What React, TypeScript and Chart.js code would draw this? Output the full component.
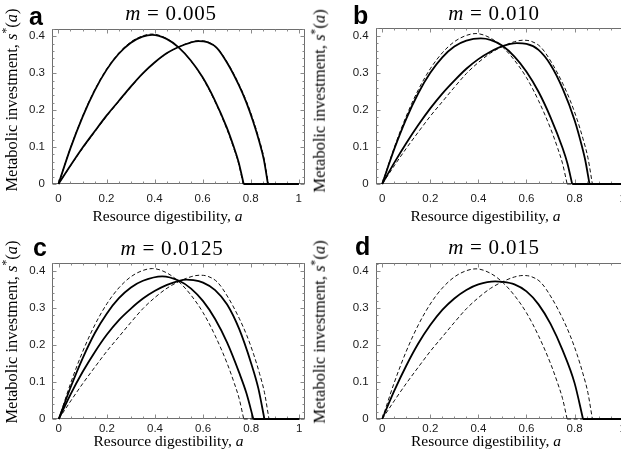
import React, { useEffect, useRef } from "react";
import { Chart, registerables } from "chart.js";

Chart.register(...registerables);

type Pt = [number, number];

// ---------------- data ----------------
const X_TICKS = [0, 0.2, 0.4, 0.6, 0.8, 1];
const Y_TICKS = [0, 0.1, 0.2, 0.3, 0.4];
const PANEL_LETTERS = ["a", "b", "c", "d"];
const PANEL_M = ["0.005", "0.010", "0.0125", "0.015"];

// reference curves (dashed, same in every panel)
const dashedLeft: Pt[] = [
  [0, 0], [0.05, 0.098], [0.1, 0.183], [0.15, 0.254], [0.2, 0.311], [0.25, 0.354],
  [0.3, 0.384], [0.35, 0.401], [0.39, 0.406], [0.45, 0.394], [0.5, 0.37], [0.55, 0.334],
  [0.6, 0.287], [0.65, 0.225], [0.7, 0.15], [0.73, 0.096], [0.75, 0.055], [0.769, 0], [1, 0],
];
const dashedRight: Pt[] = [
  [0, 0], [0.05, 0.049], [0.1, 0.096], [0.15, 0.14], [0.2, 0.183], [0.25, 0.222],
  [0.3, 0.261], [0.35, 0.298], [0.4, 0.328], [0.45, 0.353], [0.5, 0.371], [0.55, 0.384],
  [0.585, 0.388], [0.62, 0.385], [0.66, 0.369], [0.705, 0.327], [0.75, 0.272], [0.782, 0.225],
  [0.81, 0.175], [0.835, 0.122], [0.855, 0.072], [0.874, 0], [1, 0],
];

// panel a, m = 0.005
const solidA_left: Pt[] = [
  [0, 0], [0.05, 0.097], [0.1, 0.181], [0.15, 0.252], [0.2, 0.309], [0.25, 0.352],
  [0.3, 0.382], [0.35, 0.399], [0.39, 0.404], [0.45, 0.393], [0.5, 0.37], [0.55, 0.335],
  [0.6, 0.289], [0.65, 0.228], [0.7, 0.154], [0.73, 0.1], [0.75, 0.059], [0.771, 0], [1, 0],
];
const solidA_right: Pt[] = [
  [0, 0], [0.05, 0.05], [0.1, 0.098], [0.15, 0.142], [0.2, 0.185], [0.25, 0.224],
  [0.3, 0.263], [0.35, 0.299], [0.4, 0.329], [0.45, 0.354], [0.5, 0.371], [0.55, 0.383],
  [0.583, 0.387], [0.62, 0.384], [0.66, 0.368], [0.705, 0.325], [0.75, 0.269], [0.782, 0.221],
  [0.81, 0.17], [0.835, 0.117], [0.855, 0.066], [0.872, 0], [1, 0],
];

// panel b, m = 0.010
const solidB_left: Pt[] = [
  [0, 0], [0.05, 0.094], [0.1, 0.176], [0.15, 0.245], [0.2, 0.3], [0.25, 0.342],
  [0.3, 0.371], [0.35, 0.387], [0.41, 0.393], [0.45, 0.389], [0.5, 0.373], [0.55, 0.344],
  [0.6, 0.303], [0.65, 0.249], [0.7, 0.18], [0.75, 0.097], [0.77, 0.056], [0.79, 0], [1, 0],
];
const solidB_right: Pt[] = [
  [0, 0], [0.05, 0.057], [0.1, 0.11], [0.15, 0.159], [0.2, 0.204], [0.25, 0.244],
  [0.3, 0.279], [0.35, 0.311], [0.4, 0.337], [0.45, 0.357], [0.5, 0.372], [0.56, 0.38],
  [0.6, 0.378], [0.65, 0.362], [0.7, 0.322], [0.75, 0.258], [0.8, 0.172], [0.83, 0.103],
  [0.845, 0.062], [0.862, 0], [1, 0],
];

// panel c, m = 0.0125
const solidC_left: Pt[] = [
  [0, 0], [0.05, 0.087], [0.1, 0.165], [0.15, 0.232], [0.2, 0.285], [0.25, 0.326],
  [0.3, 0.355], [0.35, 0.373], [0.43, 0.385], [0.5, 0.373], [0.55, 0.352], [0.6, 0.318],
  [0.65, 0.27], [0.7, 0.206], [0.75, 0.125], [0.78, 0.07], [0.809, 0], [1, 0],
];
const solidC_right: Pt[] = [
  [0, 0], [0.05, 0.068], [0.1, 0.128], [0.15, 0.181], [0.2, 0.228], [0.25, 0.267],
  [0.3, 0.298], [0.35, 0.325], [0.4, 0.346], [0.45, 0.362], [0.5, 0.373], [0.53, 0.376],
  [0.56, 0.375], [0.6, 0.368], [0.65, 0.348], [0.7, 0.309], [0.75, 0.243], [0.8, 0.15],
  [0.83, 0.082], [0.855, 0], [1, 0],
];

// panel d, m = 0.015
const solidD: Pt[] = [
  [0, 0], [0.05, 0.076], [0.1, 0.144], [0.15, 0.204], [0.2, 0.254], [0.25, 0.295],
  [0.3, 0.326], [0.35, 0.349], [0.4, 0.364], [0.47, 0.372], [0.5, 0.371], [0.55, 0.364],
  [0.6, 0.345], [0.65, 0.31], [0.7, 0.257], [0.75, 0.186], [0.8, 0.097], [0.835, 0], [1, 0],
];

const PANEL_SOLIDS: Pt[][][] = [
  [solidA_left, solidA_right],
  [solidB_left, solidB_right],
  [solidC_left, solidC_right],
  [solidD],
];

// ---------------- layout ----------------
type Layout = {
  left: number; top: number; w: number; h: number;
  pl: number; pt: number; pr: number; pb: number; xPad: number;
  titleX: number; titleBase: number;
  letterX: number; letterBase: number;
  yLabX: number; yLabY: number;
  xLabX: number; xLabBase: number;
};

const LAYOUTS: Layout[] = [
  { left: 0, top: 0, w: 310, h: 230, pl: 52, pt: 28.5, pr: 305, pb: 184, xPad: 8,
    titleX: 171, titleBase: 20.5, letterX: 29, letterBase: 25.5,
    yLabX: 12, yLabY: 100, xLabX: 167.5, xLabBase: 220.5 },
  { left: 310, top: 0, w: 330, h: 230, pl: 65.7, pt: 28, pr: 318.7, pb: 184, xPad: 8,
    titleX: 494, titleBase: 20.5, letterX: 353, letterBase: 24.5,
    yLabX: 320, yLabY: 101, xLabX: 485.5, xLabBase: 220.5 },
  { left: 0, top: 230, w: 310, h: 231, pl: 52.3, pt: 33, pr: 305.3, pb: 189, xPad: 3,
    titleX: 172, titleBase: 255.5, letterX: 33, letterBase: 256,
    yLabX: 12, yLabY: 332, xLabX: 168.5, xLabBase: 446 },
  { left: 310, top: 230, w: 330, h: 231, pl: 65.7, pt: 33.3, pr: 318.7, pb: 189, xPad: 3,
    titleX: 494, titleBase: 254.5, letterX: 355, letterBase: 255.5,
    yLabX: 320, yLabY: 332, xLabX: 486, xLabBase: 446 },
];

const X_MIN = -0.027;
const X_MAX = 1.025;
const Y_MIN = 0;
const Y_MAX = 0.421;

const framePlugin = {
  id: "mmaFrame",
  beforeDatasetsDraw(chart: any) {
    const { ctx, chartArea: ca, scales } = chart;
    const xs = scales.x;
    const ys = scales.y;
    const l = Math.round(ca.left) + 0.5;
    const t = Math.round(ca.top) + 0.5;
    const r = Math.round(ca.right) - 0.5;
    const b = Math.round(ca.bottom) - 0.5;
    ctx.save();
    ctx.strokeStyle = "#6e6e6e";
    ctx.lineWidth = 1;
    ctx.strokeRect(l, t, r - l, b - t);
    ctx.strokeStyle = "#8a8a8a";
    ctx.beginPath();
    for (let i = 0; i <= 20; i++) {
      const v = i * 0.05;
      const len = i % 4 === 0 ? 4 : 2;
      const px = Math.round(xs.getPixelForValue(v)) + 0.5;
      ctx.moveTo(px, b); ctx.lineTo(px, b - len);
      ctx.moveTo(px, t); ctx.lineTo(px, t + len);
    }
    for (let i = 0; i <= 21; i++) {
      const v = i * 0.02;
      if (v > Y_MAX) break;
      const len = i % 5 === 0 ? 4 : 2;
      const py = Math.round(ys.getPixelForValue(v)) + 0.5;
      ctx.moveTo(l, py); ctx.lineTo(l + len, py);
      ctx.moveTo(r, py); ctx.lineTo(r - len, py);
    }
    ctx.stroke();
    ctx.restore();
  },
};

function fmt(v: number): string {
  const r = Math.round(v * 10) / 10;
  return String(r);
}

// split a curve into its rising/falling arc and the flat run along s = 0
function splitCurve(pts: Pt[]): { arc: Pt[]; flat: Pt[] } {
  let k = pts.length - 1;
  for (let i = 1; i < pts.length; i++) {
    if (pts[i][1] === 0) { k = i; break; }
  }
  return { arc: pts.slice(0, k + 1), flat: pts.slice(k) };
}

function Panel({ idx }: { idx: number }) {
  const ref = useRef<HTMLCanvasElement | null>(null);
  const L = LAYOUTS[idx];
  useEffect(() => {
    const canvas = ref.current;
    if (!canvas) return;
    const solids = PANEL_SOLIDS[idx];
    const toXY = (pts: Pt[]) => pts.map(([x, y]) => ({ x, y }));
    const datasets: any[] = [];
    const add = (pts: Pt[], dashed: boolean) => {
      const { arc, flat } = splitCurve(pts);
      const style = dashed
        ? { borderColor: "#111", borderWidth: 1, borderDash: [4, 2.5] }
        : { borderColor: "#000", borderWidth: 1.8, borderDash: [] };
      datasets.push({
        data: toXY(arc), ...style, pointRadius: 0, fill: false,
        cubicInterpolationMode: "monotone", clip: false,
      });
      datasets.push({
        data: toXY(flat), ...style, pointRadius: 0, fill: false,
        tension: 0, clip: false,
      });
    };
    solids.forEach((pts) => add(pts, false));
    [dashedLeft, dashedRight].forEach((pts) => add(pts, true));
    const chart = new Chart(canvas, {
      type: "line",
      data: { datasets },
      options: {
        animation: false,
        responsive: false,
        maintainAspectRatio: false,
        devicePixelRatio: 1,
        layout: { padding: { left: 0, top: L.pt, right: L.w - L.pr, bottom: 0 } },
        plugins: {
          legend: { display: false },
          tooltip: { enabled: false },
          title: { display: false },
        },
        scales: {
          x: {
            type: "linear",
            min: X_MIN,
            max: X_MAX,
            afterFit: (s: any) => { s.height = L.h - L.pb; },
            afterBuildTicks: (s: any) => { s.ticks = X_TICKS.map((v) => ({ value: v })); },
            ticks: {
              padding: L.xPad,
              color: "#1a1a1a",
              font: { family: "'Liberation Sans', Arial, sans-serif", size: 11.5 },
              maxRotation: 0,
              autoSkip: false,
              callback: (v: any) => fmt(Number(v)),
            },
            grid: { display: false, drawTicks: false },
            border: { display: false },
          },
          y: {
            type: "linear",
            min: Y_MIN,
            max: Y_MAX,
            afterFit: (s: any) => { s.width = L.pl; },
            afterBuildTicks: (s: any) => { s.ticks = Y_TICKS.map((v) => ({ value: v })); },
            ticks: {
              padding: 7,
              color: "#1a1a1a",
              font: { family: "'Liberation Sans', Arial, sans-serif", size: 11.5 },
              autoSkip: false,
              callback: (v: any) => fmt(Number(v)),
            },
            grid: { display: false, drawTicks: false },
            border: { display: false },
          },
        },
      } as any,
      plugins: [framePlugin],
    });
    return () => chart.destroy();
  }, [idx]);
  return (
    <canvas
      ref={ref}
      width={L.w}
      height={L.h}
      style={{ position: "absolute", left: L.left, top: L.top, width: L.w, height: L.h }}
    />
  );
}

const SERIF = "'Liberation Serif', 'Times New Roman', serif";
const SANS = "'Liberation Sans', Arial, sans-serif";

function Texts({ idx }: { idx: number }) {
  const L = LAYOUTS[idx];
  const tF = 21;
  const xF = 15.5;
  const yF = 16.5;
  const lF = 25;
  return (
    <>
      <div
        style={{
          position: "absolute", left: L.titleX, top: L.titleBase - 0.8375 * tF,
          transform: "translateX(-50%)", fontFamily: SERIF, fontSize: tF,
          lineHeight: `${tF}px`, whiteSpace: "nowrap", color: "#000",
        }}
      >
        <span style={{ fontStyle: "italic" }}>m</span>
        <span style={{ margin: "0 0.32em" }}>=</span>
        <span style={{ letterSpacing: "0.8px" }}>{PANEL_M[idx]}</span>
      </div>
      <div
        style={{
          position: "absolute", left: L.letterX, top: L.letterBase - 0.8465 * lF,
          fontFamily: SANS, fontWeight: "bold", fontSize: lF,
          lineHeight: `${lF}px`, whiteSpace: "nowrap", color: "#000",
        }}
      >
        {PANEL_LETTERS[idx]}
      </div>
      <div
        style={{
          position: "absolute", left: L.xLabX, top: L.xLabBase - 0.8375 * xF,
          transform: "translateX(-50%)", fontFamily: SERIF, fontSize: xF,
          lineHeight: `${xF}px`, whiteSpace: "nowrap", color: "#000",
        }}
      >
        Resource digestibility, <span style={{ fontStyle: "italic" }}>a</span>
      </div>
      <div
        style={{
          position: "absolute", left: L.yLabX, top: L.yLabY,
          transform: "translate(-50%, -50%) rotate(-90deg)", fontFamily: SERIF,
          fontSize: yF, lineHeight: `${yF}px`, whiteSpace: "nowrap", color: "#000",
        }}
      >
        Metabolic investment,{" "}
        <span style={{ fontStyle: "italic" }}>s</span>
        <span style={{ fontSize: "0.7em", verticalAlign: "0.55em", lineHeight: 0 }}>*</span>
        (<span style={{ fontStyle: "italic" }}>a</span>)
      </div>
    </>
  );
}

export default function App() {
  return (
    <div
      style={{
        position: "fixed", left: 0, top: 0, width: 621, height: 461,
        overflow: "hidden", background: "#fff",
      }}
    >
      {[0, 1, 2, 3].map((i) => (
        <Panel key={"p" + i} idx={i} />
      ))}
      {[0, 1, 2, 3].map((i) => (
        <Texts key={"t" + i} idx={i} />
      ))}
    </div>
  );
}
